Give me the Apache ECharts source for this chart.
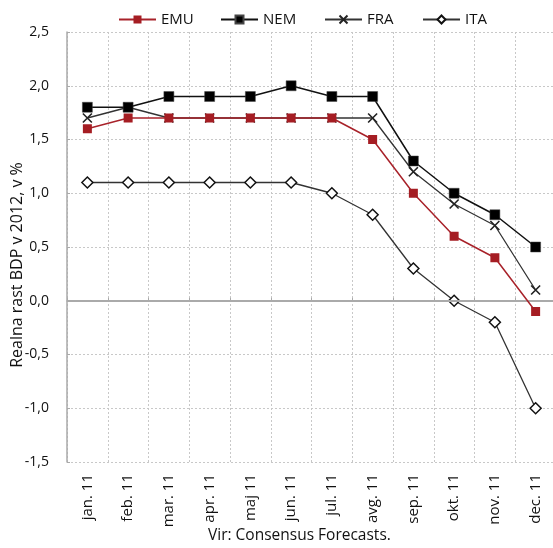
<!DOCTYPE html>
<html><head><meta charset="utf-8">
<script src="https://cdn.jsdelivr.net/npm/echarts@6/dist/echarts.min.js"></script>
<style>html,body{margin:0;padding:0;background:#fff}#c{width:553px;height:548px}</style>
</head><body><div id="c"></div>
<script>
var categories = ['jan. 11','feb. 11','mar. 11','apr. 11','maj 11','jun. 11','jul. 11','avg. 11','sep. 11','okt. 11','nov. 11','dec. 11'];
var seriesNames = ['EMU','NEM','FRA','ITA'];
var emu = [1.6, 1.7, 1.7, 1.7, 1.7, 1.7, 1.7, 1.5, 1.0, 0.6, 0.4, -0.1];
var nem = [1.8, 1.8, 1.9, 1.9, 1.9, 2.0, 1.9, 1.9, 1.3, 1.0, 0.8, 0.5];
var fra = [1.7, 1.8, 1.7, 1.7, 1.7, 1.7, 1.7, 1.7, 1.2, 0.9, 0.7, 0.1];
var ita = [1.1, 1.1, 1.1, 1.1, 1.1, 1.1, 1.0, 0.8, 0.3, 0.0, -0.2, -1.0];
var yTicks = {min: -1.5, max: 2.5, interval: 0.5};
var yTitle = 'Realna rast BDP v 2012, v %';
var source = 'Vir: Consensus Forecasts.';

var FONT = 'Open Sans';
var chart = echarts.init(document.getElementById('c'));
var crossPath = 'path://M0,0L10,10M10,0L0,10';
var legendLefts = [113, 215, 319, 417];
chart.setOption({
  animation: false,
  textStyle: {fontFamily: FONT},
  legend: seriesNames.map(function(n, i){
    return {top: 7, left: legendLefts[i], itemWidth: 37, itemHeight: 10, itemGap: 0,
      textStyle: {fontSize: 15, color: '#111', fontFamily: FONT}, data: [n]};
  }),
  grid: {left: 67, right: -3, top: 32, bottom: 86, outerBoundsMode: 'none', containLabel: false},
  graphic: [
    {type: 'text', left: 208, top: 528, style: {text: source, font: '15.5px "Open Sans"', fill: '#111'}},
    {type: 'text', x: 17, y: 265, rotation: Math.PI / 2,
      style: {text: yTitle, font: '16px "Open Sans"', fill: '#111', align: 'center', verticalAlign: 'middle'}}
  ],
  xAxis: {
    type: 'category', data: categories, boundaryGap: true,
    axisLine: {show: true, lineStyle: {color: '#aaa', width: 1.5}},
    axisTick: {show: true, inside: true, length: 3, lineStyle: {color: '#aaa'}},
    axisLabel: {rotate: 90, fontSize: 15, color: '#111', margin: 12, fontFamily: FONT},
    splitLine: {show: true, interval: 0, lineStyle: {color: '#c8c8c8', type: [2, 2], width: 1}}
  },
  yAxis: {
    type: 'value', min: yTicks.min, max: yTicks.max, interval: yTicks.interval,
    axisLine: {show: true, lineStyle: {color: '#aaa', width: 1.5}},
    axisTick: {show: true, inside: true, length: 3, lineStyle: {color: '#aaa'}},
    axisLabel: {fontSize: 14, color: '#111', margin: 18, fontFamily: FONT,
      formatter: function(v){ return v.toFixed(1).replace('.', ','); }},
    splitLine: {show: true, lineStyle: {color: '#c8c8c8', type: [2, 2], width: 1}}
  },
  series: [
    {name: 'ITA', type: 'line', data: ita, z: 2, symbol: 'diamond', symbolSize: 11,
      lineStyle: {color: '#333', width: 1.3},
      itemStyle: {color: '#fff', borderColor: '#111', borderWidth: 1.5},
      markLine: {silent: true, symbol: 'none', label: {show: false},
        lineStyle: {color: '#aaa', type: 'solid', width: 2}, data: [{yAxis: 0}]}},
    {name: 'FRA', type: 'line', data: fra, z: 3, symbol: crossPath, symbolSize: 9,
      lineStyle: {color: '#333', width: 1.3},
      itemStyle: {color: 'none', borderColor: '#222', borderWidth: 1.6}},
    {name: 'NEM', type: 'line', data: nem, z: 4, symbol: 'rect', symbolSize: 10,
      lineStyle: {color: '#111', width: 1.5},
      itemStyle: {color: '#000', borderColor: '#444', borderWidth: 0.5}},
    {name: 'EMU', type: 'line', data: emu, z: 5, symbol: 'rect', symbolSize: 9,
      lineStyle: {color: '#a8222a', width: 1.5},
      itemStyle: {color: '#a51d23'}}
  ]
});
</script></body></html>
